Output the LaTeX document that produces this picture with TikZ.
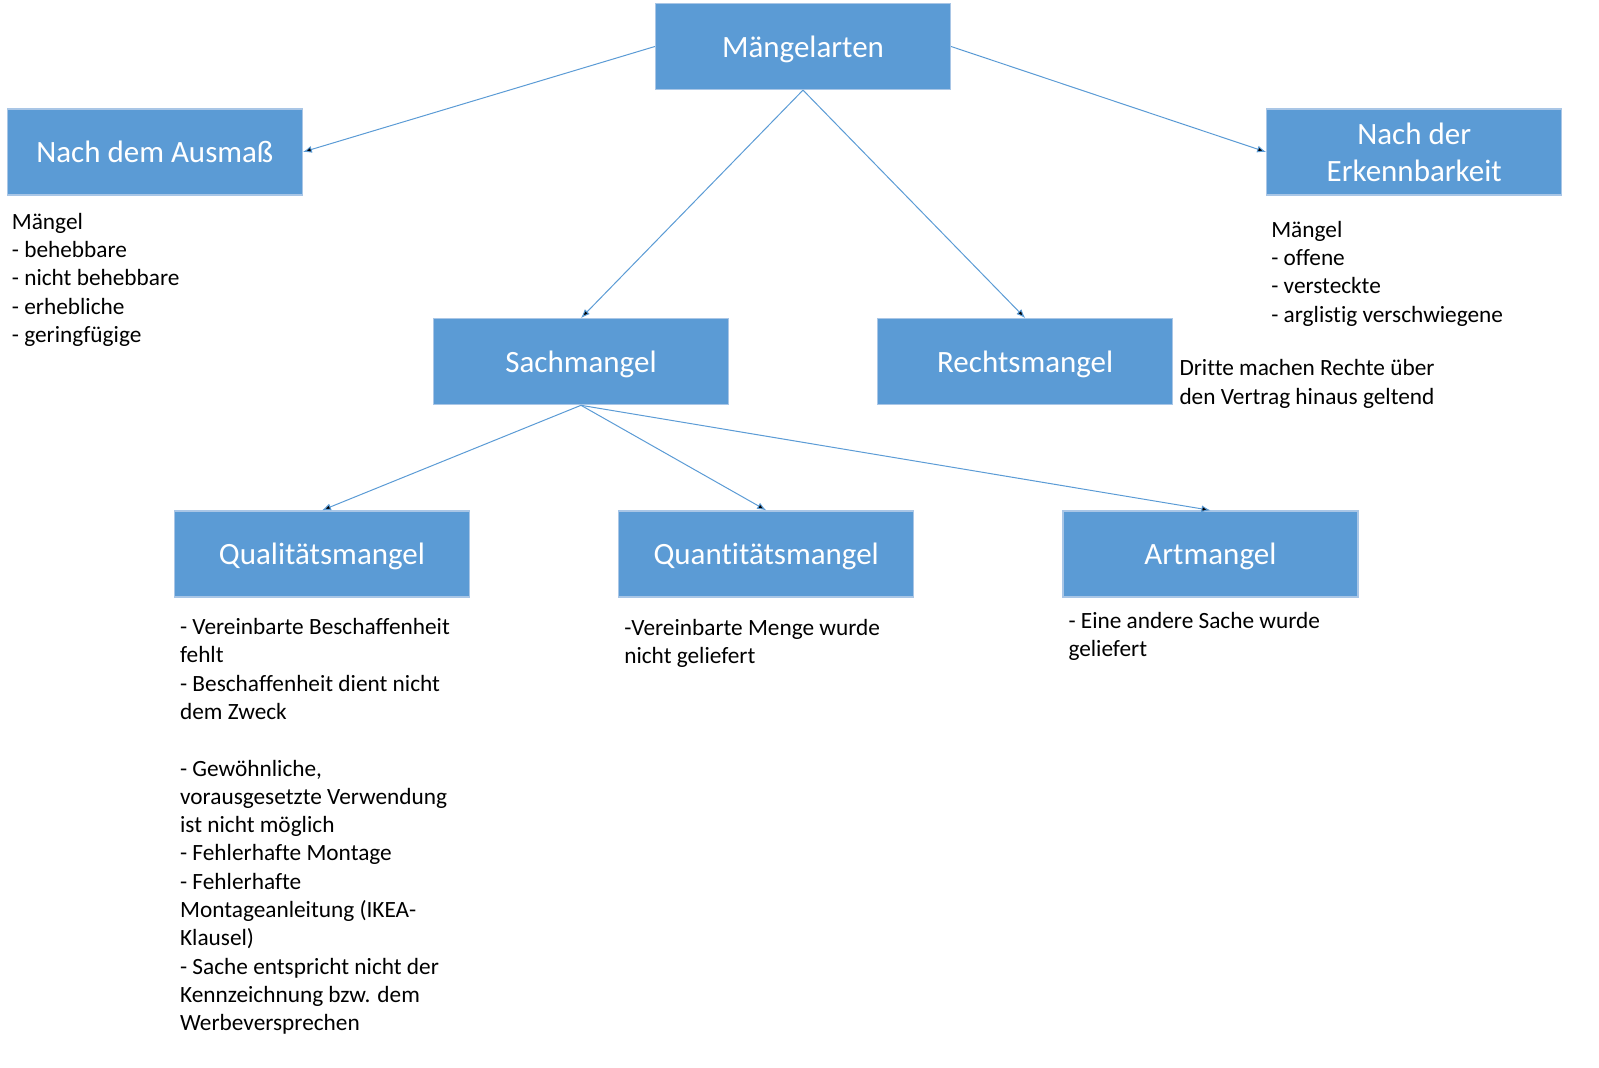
\documentclass[tikz,border=0pt]{standalone}
\usepackage{fontspec}
\setmainfont{Carlito}[Ligatures={NoCommon}]
\usetikzlibrary{arrows.meta}
\usetikzlibrary{positioning}
\definecolor{boxblue}{HTML}{5B9BD5}
\definecolor{boxrim}{HTML}{A9C6E6}
\definecolor{linkblue}{HTML}{5B9BD5}

\begin{document}
\begin{tikzpicture}[%
        x=1pt, y=-1pt,
        box/.style={rectangle, fill=boxblue, draw=boxrim, line width=1.2pt,
          minimum width=295pt, minimum height=86pt, inner sep=0pt,
          align=center, text=white, font=\fontsize{31}{37}\selectfont},
        boxfix/.style={box, text height=26pt, text depth=5pt},
        note/.style={anchor=north west, inner sep=0pt, align=left,
          font=\fontsize{23.3}{28.3}\selectfont},
        link/.style={draw=linkblue, line width=1pt},
        node distance=148pt, >={Latex[length=9pt,width=7pt]}
      ]
      \useasboundingbox (0,0) rectangle (1599,1068);
      % boxes
      \node [boxfix] (arten) at (803,46.5) {Mängelarten};
      \node [boxfix, left=352pt of arten, yshift=-105.5pt] (ausmass) {Nach dem Ausmaß};
      \node [box, right=315pt of arten, yshift=-105.5pt] (erkenn) {Nach der\\Erkennbarkeit};
      \node [boxfix, below=228pt of arten, xshift=-222pt] (sach) {Sachmangel};
      \node [boxfix, right=of sach] (recht) {Rechtsmangel};
      \node [boxfix, below=105pt of sach, xshift=-259pt] (qual) {Qualitätsmangel};
      \node [boxfix, right=of qual] (quant) {Quantitätsmangel};
      \node [boxfix, right=of quant] (art) {Artmangel};
      % notes
      \node [note, below right=13.7pt and 5pt of ausmass.south west] (ausmassnote)
        {\strut Mängel\\- behebbare\\- nicht behebbare\\- erhebliche\\- geringfügige};
      \node [note, below right=21.7pt and 5pt of erkenn.south west] (erkennnote)
        {\strut Mängel\\- offene\\- versteckte\\- arglistig verschwiegene};
      \node [note, below right=37.7pt and 6pt of recht.north east] (rechtnote)
        {\strut Dritte machen Rechte über\\den Vertrag hinaus geltend};
      \node [note, below right=17pt and 6pt of qual.south west] (qualnote)
        {\strut - Vereinbarte Beschaffenheit\\fehlt\\- Beschaffenheit dient nicht\\dem Zweck\\[28.3pt]
         - Gewöhnliche,\\vorausgesetzte Verwendung\\ist nicht möglich\\- Fehlerhafte Montage\\- Fehlerhafte\\
         Montageanleitung (IKEA-\\Klausel)\\- Sache entspricht nicht der\\Kennzeichnung bzw. dem\\Werbeversprechen};
      \node [note, below right=18pt and 6pt of quant.south west] (quantnote)
        {\strut -Vereinbarte Menge wurde\\nicht geliefert};
      \node [note, below right=11pt and 6pt of art.south west] (artnote)
        {\strut - Eine andere Sache wurde\\geliefert};
      % links
      \path [link] (arten.west) edge[->] (ausmass.east)
      (arten.east) edge[->] (erkenn.west)
      (arten.south) edge[->] (sach.north)
      (arten.south) edge[->] (recht.north)
      (sach.south) edge[->] (qual.north)
      (sach.south) edge[->] (quant.north)
      (sach.south) edge[->] (art.north);
    \end{tikzpicture}
\end{document}
